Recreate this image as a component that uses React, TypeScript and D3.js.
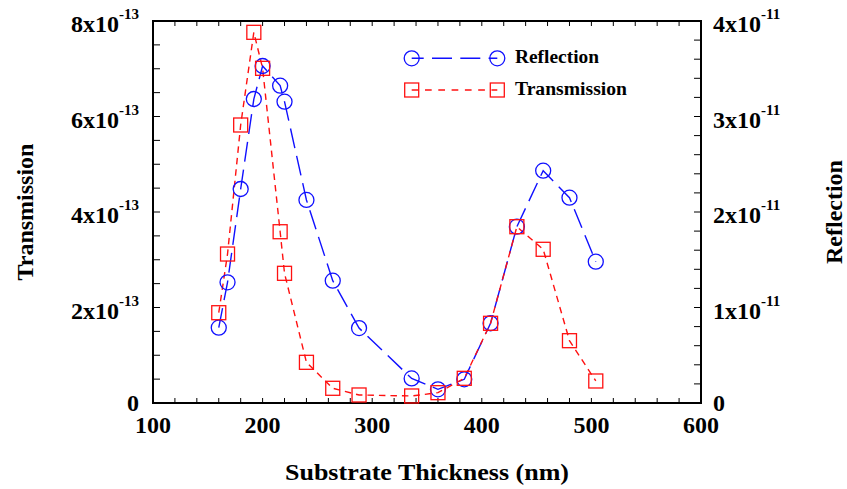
import React from "react";
import * as d3 from "d3";

// Data (thickness in nm; transmission in units of 1e-13; reflection in units of 1e-11)
const thickness = [160, 168, 180, 192, 200, 216, 220, 240, 264, 288, 336, 360, 384, 408, 432, 456, 480, 504];
const reflection = [0.789, 1.264, 2.241, 3.183, 3.529, 3.323, 3.155, 2.126, 1.281, 0.785, 0.257, 0.143, 0.248, 0.835, 1.846, 2.433, 2.15, 1.48];
const transmission = [1.891, 3.12, 5.822, 7.763, 7.009, 3.587, 2.716, 0.852, 0.308, 0.168, 0.147, 0.216, 0.517, 1.669, 3.692, 3.219, 1.305, 0.461];

const xTicks = [100, 200, 300, 400, 500, 600];
const leftTicks = [0, 2, 4, 6, 8];
const leftExp = "-13";
const rightTicks = [0, 1, 2, 3, 4];
const rightExp = "-11";

const W = 847, H = 489;
const L = 153, R = 701, T = 21, B = 403;
const FONT = "'Liberation Serif', 'Times New Roman', serif";
const BLUE = "#1010ff";
const RED = "#ff1010";

export default function App() {
  const x = d3.scaleLinear().domain([100, 600]).range([L, R]);
  const yL = d3.scaleLinear().domain([0, 8]).range([B, T]);
  const yR = d3.scaleLinear().domain([0, 4]).range([B, T]);

  const refPts = thickness.map((t, i) => [x(t), yR(reflection[i])] as [number, number]);
  const trPts = thickness.map((t, i) => [x(t), yL(transmission[i])] as [number, number]);
  const line = d3.line();

  const xMinor = d3.range(100, 600.1, 20);
  const lMinor = d3.range(0, 8.01, 0.5);
  const rMinor = d3.range(0, 4.001, 0.2);

  const sq = 14;
  const cr = 7.5;

  const legY1 = 58.3, legY2 = 90, legX1 = 411.7, legX2 = 497.3;

  return (
    <svg width={W} height={H} style={{ position: "absolute", left: 0, top: 0, background: "#fff" }} fontFamily={FONT} fontWeight="bold">
      <rect x={0} y={0} width={W} height={H} fill="#fff" />
      {/* ticks */}
      {xMinor.map((v) => (
        <g key={"xt" + v}>
          <line x1={x(v)} x2={x(v)} y1={B} y2={B - 5} stroke="#000" strokeWidth={1} />
          <line x1={x(v)} x2={x(v)} y1={T} y2={T + 5} stroke="#000" strokeWidth={1} />
        </g>
      ))}
      {lMinor.map((v) => (
        <line key={"lt" + v} x1={L} x2={L + 7} y1={yL(v)} y2={yL(v)} stroke="#000" strokeWidth={1} />
      ))}
      {rMinor.map((v) => (
        <line key={"rt" + v} x1={R} x2={R - 7} y1={yR(v)} y2={yR(v)} stroke="#000" strokeWidth={1} />
      ))}
      {/* frame */}
      <rect x={L} y={T} width={R - L} height={B - T} fill="none" stroke="#000" strokeWidth={2} />

      {/* x tick labels */}
      {xTicks.map((v) => (
        <text key={"xl" + v} x={x(v)} y={433} textAnchor="middle" fontSize={24}>{v}</text>
      ))}
      {/* left tick labels */}
      {leftTicks.map((v) =>
        v === 0 ? (
          <text key={"ll" + v} x={139} y={yL(v) + 8} textAnchor="end" fontSize={24}>0</text>
        ) : (
          <text key={"ll" + v} x={139} y={yL(v) + 11} textAnchor="end" fontSize={24}>
            <tspan>{v}x10</tspan>
            <tspan dy={-13} fontSize={15}>{leftExp}</tspan>
          </text>
        )
      )}
      {/* right tick labels */}
      {rightTicks.map((v) =>
        v === 0 ? (
          <text key={"rl" + v} x={713} y={yR(v) + 8} textAnchor="start" fontSize={24}>0</text>
        ) : (
          <text key={"rl" + v} x={713} y={yR(v) + 11} textAnchor="start" fontSize={24}>
            <tspan>{v}x10</tspan>
            <tspan dy={-13} fontSize={15}>{rightExp}</tspan>
          </text>
        )
      )}

      {/* axis titles */}
      <text x={(L + R) / 2} y={480} textAnchor="middle" fontSize={24} textLength={284} lengthAdjust="spacingAndGlyphs">Substrate Thickness (nm)</text>
      <text transform={`translate(33,${(T + B) / 2}) rotate(-90)`} textAnchor="middle" fontSize={24}>Transmission</text>
      <text transform={`translate(842,${(T + B) / 2}) rotate(-90)`} textAnchor="middle" fontSize={24}>Reflection</text>

      {/* series lines */}
      <path d={line(refPts) || ""} fill="none" stroke={BLUE} strokeWidth={1.4} strokeDasharray="20,8" />
      <path d={line(trPts) || ""} fill="none" stroke={RED} strokeWidth={1.4} strokeDasharray="6.5,5" />

      {/* markers */}
      {refPts.map((p, i) => (
        <circle key={"c" + i} cx={p[0]} cy={p[1]} r={cr} fill="none" stroke={BLUE} strokeWidth={1.3} />
      ))}
      {trPts.map((p, i) => (
        <rect key={"s" + i} x={p[0] - sq / 2} y={p[1] - sq / 2} width={sq} height={sq} fill="none" stroke={RED} strokeWidth={1.3} />
      ))}

      {/* legend */}
      <line x1={legX1} x2={legX2} y1={legY1} y2={legY1} stroke={BLUE} strokeWidth={1.4} strokeDasharray="20,8.3" strokeDashoffset={8} />
      <circle cx={legX1} cy={legY1} r={cr} fill="none" stroke={BLUE} strokeWidth={1.3} />
      <circle cx={legX2} cy={legY1} r={cr} fill="none" stroke={BLUE} strokeWidth={1.3} />
      <text x={515} y={63} fontSize={18} textLength={84} lengthAdjust="spacingAndGlyphs">Reflection</text>

      <line x1={legX1} x2={legX2} y1={legY2} y2={legY2} stroke={RED} strokeWidth={1.4} strokeDasharray="6.7,6.6" />
      <rect x={legX1 - sq / 2} y={legY2 - sq / 2} width={sq} height={sq} fill="none" stroke={RED} strokeWidth={1.3} />
      <rect x={legX2 - sq / 2} y={legY2 - sq / 2} width={sq} height={sq} fill="none" stroke={RED} strokeWidth={1.3} />
      <text x={515} y={95} fontSize={18} textLength={112} lengthAdjust="spacingAndGlyphs">Transmission</text>
    </svg>
  );
}
